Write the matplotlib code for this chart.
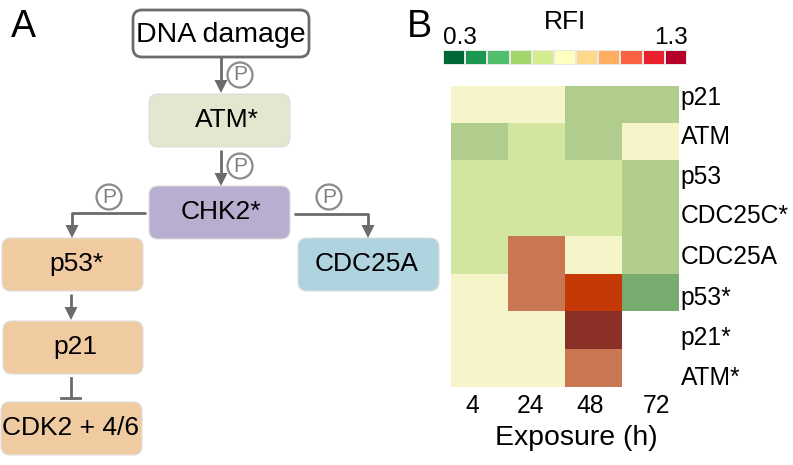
import numpy as np
import matplotlib
matplotlib.use('Agg')
import matplotlib.pyplot as plt
from matplotlib.colors import ListedColormap, BoundaryNorm
from matplotlib.patches import FancyBboxPatch, Circle

W, H = 793, 465

# heatmap data (RFI)
exposure = ['4', '24', '48', '72']
proteins = ['p21', 'ATM', 'p53', 'CDC25C*', 'CDC25A', 'p53*', 'p21*', 'ATM*']
rfi = np.array([
    [0.8, 0.8, 0.6, 0.6],
    [0.6, 0.7, 0.6, 0.8],
    [0.7, 0.7, 0.7, 0.6],
    [0.7, 0.7, 0.7, 0.6],
    [0.7, 1.0, 0.8, 0.6],
    [0.8, 1.0, 1.2, 0.5],
    [0.8, 0.8, 1.3, np.nan],
    [0.8, 0.8, 1.0, np.nan],
])
scale_colors = ['#006837', '#1a9850', '#50be6c', '#a1d76a', '#d3ec8c', '#ffffbf',
                '#fed98b', '#fdae61', '#f96342', '#e8212c', '#b5002a']
cell_colors = ['#3f8f5f', '#4fa068', '#77ab6f', '#b1cd8e', '#d3e69f', '#f5f5c9',
               '#e8c890', '#c87752', '#c96a3c', '#c43905', '#8b3027']

# diagram boxes: label, left, top, right, bottom, colour, label x
boxes = [
    ('ATM*', 149, 94, 290, 147, '#e2e8cf', 227),
    ('CHK2*', 149, 186, 290, 239, '#b8aecf', 221),
    ('p53*', 2, 238, 143, 291, '#f0cba2', 76),
    ('CDC25A', 298, 238, 439, 291, '#b0d3e0', 367),
    ('p21', 3, 321, 143, 374, '#f0cba2', 75),
    ('CDK2 + 4/6', 1, 402, 142, 455, '#f0cba2', 71),
]
phospho = [(240, 75), (240, 166), (109, 197), (329, 197)]
GREY = '#6b6b6b'

plt.rcParams['font.family'] = ['Liberation Sans', 'DejaVu Sans']

fig = plt.figure(figsize=(W / 100, H / 100), dpi=100)
bg = fig.add_axes([0, 0, 1, 1])
bg.set_xlim(0, W)
bg.set_ylim(H, 0)
bg.axis('off')


def rbox(x0, y0, x1, y1, face, edge, lw, r=9):
    bg.add_patch(FancyBboxPatch((x0 + r, y0 + r), x1 - x0 - 2 * r, y1 - y0 - 2 * r,
                                boxstyle=f'round,pad={r}', fc=face, ec=edge, lw=lw))


def arrow(points):
    xs, ys = zip(*points)
    bg.plot(xs[:-1] + (xs[-1],), ys[:-1] + (ys[-1] - 8,), color=GREY, lw=2, solid_capstyle='butt')
    x, y = points[-1]
    bg.fill([x - 6.5, x + 6.5, x], [y - 13, y - 13, y], color=GREY, lw=0)


rbox(133, 10, 309, 57, 'white', GREY, 2)
bg.text(221, 35, 'DNA damage', fontsize=20.5, ha='center', va='center')
for label, x0, y0, x1, y1, c, tx in boxes:
    rbox(x0, y0, x1, y1, c, '#dddddd', 0.8)
    bg.text(tx, (y0 + y1) / 2 - 1, label, fontsize=19, ha='center', va='center')

arrow([(221, 57), (221, 93)])
arrow([(221, 150), (221, 186)])
arrow([(146, 213), (72, 213), (72, 238)])
arrow([(294, 214), (368, 214), (368, 238)])
arrow([(71, 294), (71, 320)])
bg.plot([71, 71], [378, 398], color=GREY, lw=2)
bg.plot([61, 80], [398, 398], color=GREY, lw=2)

for x, y in phospho:
    bg.add_patch(Circle((x, y), 12.5, fc='white', ec='#8a8a8a', lw=1.6))
    bg.text(x, y, 'P', fontsize=15, color='#808080', ha='center', va='center')

bg.text(11, 27, 'A', fontsize=27, ha='left', va='center')
bg.text(407, 27, 'B', fontsize=27, ha='left', va='center')


def axes_px(x0, y0, x1, y1):
    return fig.add_axes([x0 / W, 1 - y1 / H, (x1 - x0) / W, (y1 - y0) / H])


# heatmap
ax = axes_px(451, 86, 678, 387)
bounds = np.linspace(0.3, 1.3, 12)
cmap = ListedColormap(cell_colors)
cmap.set_bad('white')
ax.imshow(rfi, cmap=cmap, norm=BoundaryNorm(bounds, 11, clip=True), aspect='auto',
          interpolation='nearest')
ax.set_xticks([-0.12, 0.9, 1.95, 3.12], exposure)
row_px = [95, 134, 174, 213, 254, 295, 335, 375]
ax.set_yticks([(p - 86) / 37.6 - 0.5 for p in row_px], proteins)
ax.yaxis.tick_right()
ax.tick_params(length=0, labelsize=17.7, pad=2)
ax.tick_params(axis='x', pad=5)
for s in ax.spines.values():
    s.set_visible(False)

# colour scale
cax = axes_px(443, 50, 687, 65)
cax.pcolormesh(bounds, [0, 1], bounds[:-1].reshape(1, -1), cmap=ListedColormap(scale_colors),
               norm=BoundaryNorm(bounds, 11), edgecolors='#e8e8e8', linewidth=0.3)
cax.axis('off')
bg.text(565, 22, 'RFI', fontsize=19, ha='center', va='center')
bg.text(443, 38, '0.3', fontsize=17.5, ha='left', va='center')
bg.text(688, 38, '1.3', fontsize=17.5, ha='right', va='center')
bg.text(576, 438, 'Exposure (h)', fontsize=20.4, ha='center', va='center')

fig.savefig('out.png', dpi=100)
